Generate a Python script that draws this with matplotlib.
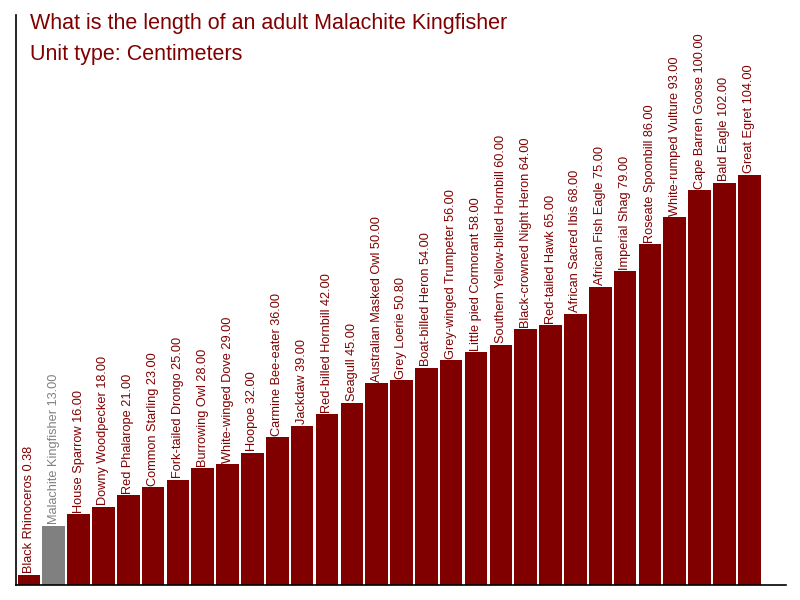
import matplotlib
matplotlib.use("Agg")
import matplotlib.pyplot as plt

names = ["Black Rhinoceros", "Malachite Kingfisher", "House Sparrow", "Downy Woodpecker",
         "Red Phalarope", "Common Starling", "Fork-tailed Drongo", "Burrowing Owl",
         "White-winged Dove", "Hoopoe", "Carmine Bee-eater", "Jackdaw",
         "Red-billed Hornbill", "Seagull", "Australian Masked Owl", "Grey Loerie",
         "Boat-billed Heron", "Grey-winged Trumpeter", "Little pied Cormorant",
         "Southern Yellow-billed Hornbill", "Black-crowned Night Heron", "Red-tailed Hawk",
         "African Sacred Ibis", "African Fish Eagle", "Imperial Shag", "Roseate Spoonbill",
         "White-rumped Vulture", "Cape Barren Goose", "Bald Eagle", "Great Egret"]
values = [0.38, 13.00, 16.00, 18.00, 21.00, 23.00, 25.00, 28.00, 29.00, 32.00, 36.00,
          39.00, 42.00, 45.00, 50.00, 50.80, 54.00, 56.00, 58.00, 60.00, 64.00, 65.00,
          68.00, 75.00, 79.00, 86.00, 93.00, 100.00, 102.00, 104.00]
highlight = "Malachite Kingfisher"

plt.rcParams['font.family'] = ['Liberation Sans', 'DejaVu Sans']
RED = "#800000"
GREY = "#808080"

fig = plt.figure(figsize=(8, 6), dpi=100)
ax = fig.add_axes([16/800, 15/600, 770/800, 570/600])

base = -2.28
xs = list(range(len(names)))
colors = [GREY if n == highlight else RED for n in names]
ax.bar(xs, [v - base for v in values], bottom=base, width=0.91, color=colors, linewidth=0)

for x, n, v, c in zip(xs, names, values, colors):
    ax.text(x, v + 0.4, f"{n} {v:.2f}", rotation=90, ha='center', va='bottom',
            fontsize=9.2, color=c)

ax.set_xlim(-0.52, 30.48)
ax.set_ylim(base, 145.4)
ax.set_xticks([])
ax.set_yticks([])
for s in ['top', 'right']:
    ax.spines[s].set_visible(False)
for s in ['left', 'bottom']:
    ax.spines[s].set_color('black')
    ax.spines[s].set_linewidth(1.2)

fig.text(30/800, 1 - 29/600, "What is the length of an adult Malachite Kingfisher",
         fontsize=15.5, color=RED, va='baseline', ha='left')
fig.text(30/800, 1 - 60/600, "Unit type: Centimeters",
         fontsize=15.5, color=RED, va='baseline', ha='left')

fig.savefig("out.png", dpi=100)
